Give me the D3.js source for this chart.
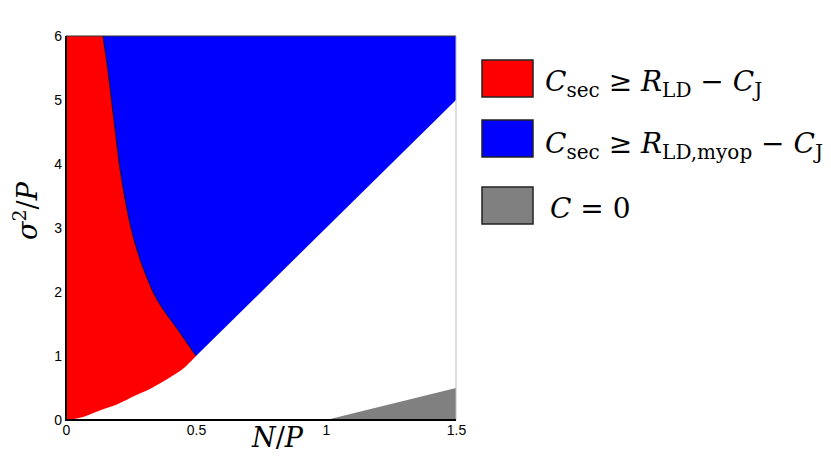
<!DOCTYPE html>
<html>
<head>
<meta charset="utf-8">
<script src="https://cdn.jsdelivr.net/npm/d3@7"></script>
<style>
  body { margin: 0; background: #fff; }
  .tick text { font-family: "Liberation Sans", Arial, sans-serif; font-size: 14px; fill: #000; }
  .math { font-family: "DejaVu Serif", "Liberation Serif", serif; fill: #000; }
</style>
</head>
<body>
<svg id="chart" width="831" height="474"></svg>
<script>
// region boundaries (x = N/P, y = sigma^2/P)
var redLower = [[0, 0], [0.05, 0.03], [0.13, 0.15], [0.2, 0.25], [0.26, 0.37], [0.33, 0.5], [0.39, 0.64], [0.45, 0.8], [0.5, 1.0]];
var redBlueEdge = [[0.5, 1.0], [0.43, 1.41], [0.35, 1.88], [0.3, 2.34], [0.273, 2.66], [0.25, 3.0], [0.225, 3.5], [0.205, 4.0], [0.19, 4.5], [0.175, 5.0], [0.16, 5.5], [0.142, 6.0]];
var blueLower = [[0.5, 1.0], [1.5, 5.0]];
var grayZero = [[1.0, 0], [1.5, 0], [1.5, 0.5]];

var xTicks = [0, 0.5, 1, 1.5];
var xTickLabels = ["0", "0.5", "1", "1.5"];
var yTicks = [0, 1, 2, 3, 4, 5, 6];

var legendItems = [
  { color: "#ff0000", parts: [["C", "i"], ["sec", "s"], [" \u2265 ", "n"], ["R", "i"], ["LD", "s"], [" \u2212 ", "n"], ["C", "i"], ["J", "s"]] },
  { color: "#0000ff", parts: [["C", "i"], ["sec", "s"], [" \u2265 ", "n"], ["R", "i"], ["LD,myop", "s"], [" \u2212 ", "n"], ["C", "i"], ["J", "s"]] },
  { color: "#808080", parts: [["C", "i"], [" = 0", "n"]] }
];

var svg = d3.select("#chart");

var x = d3.scaleLinear().domain([0, 1.5]).range([66, 456]);
var y = d3.scaleLinear().domain([0, 6]).range([420, 36]);

var line = d3.line()
  .x(function(d) { return x(d[0]); })
  .y(function(d) { return y(d[1]); });

var smooth = d3.line()
  .x(function(d) { return x(d[0]); })
  .y(function(d) { return y(d[1]); })
  .curve(d3.curveCatmullRom);

// continue a path with a smooth piece (drop its leading M)
function cont(pts) {
  return "L" + smooth(pts).slice(1);
}

var edgeDown = redBlueEdge.slice().reverse();
var lowerBack = redLower.slice().reverse();

// red area: left edge, top, down the red/blue edge, back along the lower curve
var redPath = line([[0, 0], [0, 6]]) + cont(edgeDown) + cont(lowerBack) + "Z";
svg.append("path")
  .attr("d", redPath)
  .attr("fill", "#ff0000");

// blue area
var bluePath = smooth(redBlueEdge) + "L" + x(1.5) + "," + y(6) +
  "L" + x(blueLower[1][0]) + "," + y(blueLower[1][1]) +
  "L" + x(blueLower[0][0]) + "," + y(blueLower[0][1]) + "Z";
svg.append("path")
  .attr("d", bluePath)
  .attr("fill", "#0000ff");

svg.append("path")
  .attr("d", line(grayZero) + "Z")
  .attr("fill", "#808080");

svg.append("path")
  .attr("d", smooth(redBlueEdge))
  .attr("fill", "none")
  .attr("stroke", "#000")
  .attr("stroke-width", 0.8);

// frame
svg.append("line")
  .attr("x1", x(0)).attr("x2", x(1.5))
  .attr("y1", y(6)).attr("y2", y(6))
  .attr("stroke", "#333").attr("stroke-width", 1);
svg.append("line")
  .attr("x1", x(1.5)).attr("x2", x(1.5))
  .attr("y1", y(6)).attr("y2", y(0))
  .attr("stroke", "#bbb").attr("stroke-width", 1);

var xAxis = svg.append("g")
  .attr("transform", "translate(0," + y(0) + ")")
  .call(d3.axisBottom(x).tickValues(xTicks).tickSize(0).tickPadding(5)
    .tickFormat(function(d, i) { return xTickLabels[i]; }));
xAxis.select(".domain").remove();

var yAxis = svg.append("g")
  .attr("transform", "translate(" + x(0) + ",0)")
  .call(d3.axisLeft(y).tickValues(yTicks).tickSize(0).tickPadding(4).tickFormat(d3.format("d")));
yAxis.select(".domain").remove();

// axis lines
svg.append("line")
  .attr("x1", x(0)).attr("x2", x(0))
  .attr("y1", y(6)).attr("y2", y(0) + 1)
  .attr("stroke", "#000").attr("stroke-width", 2);
svg.append("line")
  .attr("x1", x(0) - 1).attr("x2", x(1.5))
  .attr("y1", y(0)).attr("y2", y(0))
  .attr("stroke", "#000").attr("stroke-width", 2);

// axis titles
var xt = svg.append("text").attr("class", "math")
  .attr("x", 252).attr("y", 447)
  .style("font-size", "27px");
xt.append("tspan").style("font-style", "italic").text("N");
xt.append("tspan").text("/");
xt.append("tspan").style("font-style", "italic").text("P");

var yt = svg.append("text").attr("class", "math")
  .attr("transform", "translate(37,240) rotate(-90)")
  .style("font-size", "27px");
yt.append("tspan").style("font-style", "italic").text("\u03c3");
yt.append("tspan").attr("dy", -11).style("font-size", "19px").text("2");
yt.append("tspan").attr("dy", 11).text("/");
yt.append("tspan").style("font-style", "italic").text("P");

// legend
var legendTop = [60, 120, 187];
var legendBase = [91, 153, 218];

legendItems.forEach(function(item, i) {
  svg.append("rect")
    .attr("x", 482).attr("y", legendTop[i])
    .attr("width", 51).attr("height", 37)
    .attr("fill", item.color)
    .attr("stroke", "#222").attr("stroke-width", 1.5);

  var t = svg.append("text").attr("class", "math")
    .attr("x", i == 2 ? 550 : 545).attr("y", legendBase[i])
    .style("font-size", "28px");
  var shift = 0;
  item.parts.forEach(function(p) {
    var ts = t.append("tspan").text(p[0]);
    var want = p[1] == "s" ? 6 : 0;
    ts.attr("dy", want - shift);
    shift = want;
    if (p[1] == "i") ts.style("font-style", "italic");
    if (p[1] == "s") ts.style("font-size", "20px");
  });
});
</script>
</body>
</html>
